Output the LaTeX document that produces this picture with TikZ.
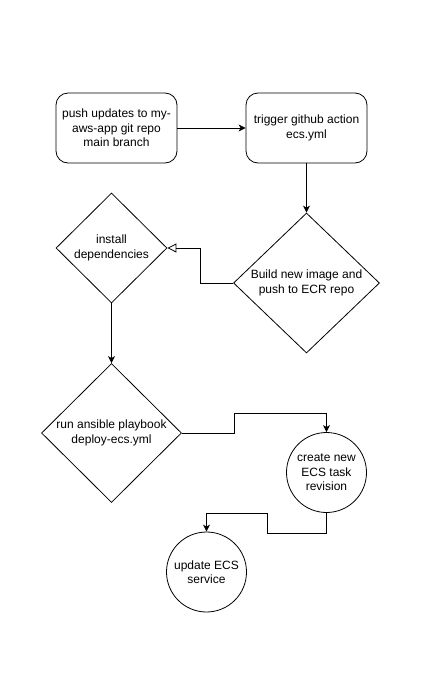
\documentclass[tikz,border=0pt]{standalone}
\usepackage{fontspec}
\setmainfont{Liberation Sans}
\usepackage{tikz}
\usetikzlibrary{shapes.geometric}
\usetikzlibrary{arrows.meta}
\tikzset{
  flowbox/.style={draw,rounded corners=12pt,minimum width=121pt,minimum height=70pt,align=center,inner sep=0pt},
  flowdiamond/.style={draw,diamond,align=center,inner sep=0pt},
  flowcircle/.style={draw,circle,align=center,inner sep=0pt},
  flowarrow/.style={-{Stealth[length=7pt,width=7pt,inset=2pt]}},
  openarrow/.style={-{Triangle[open,length=9pt,width=9pt]}}
}

\begin{document}
\begin{tikzpicture}[x=1pt,y=-1pt,line width=0.8pt,font=\fontsize{12}{14.4}\selectfont]
\useasboundingbox (0,0) rectangle (434,699);
\node[flowbox] (push) at (116.5,128) {push updates to my-\\aws-app git repo\\main branch};
\node[flowbox] (trigger) at (306.5,128) {trigger github action\\ecs.yml};
\node[flowdiamond,minimum width=146pt,minimum height=140pt] (build) at (306.5,283) {Build new image and\\push to ECR repo};
\node[flowdiamond,minimum width=111pt,minimum height=110pt] (install) at (111.5,248) {install\\dependencies};
\node[flowdiamond,minimum width=140pt,minimum height=139pt] (run) at (111.5,433) {run ansible playbook\\deploy-ecs.yml};
\node[flowcircle,minimum size=80pt] (create) at (326.5,472.5) {create new\\ECS task\\revision};
\node[flowcircle,minimum size=80pt] (update) at (206.5,572) {update ECS\\service};
\draw[flowarrow] (push.east) -- (trigger.west);
\draw[flowarrow] (trigger.south) -- (build.north);
\draw[openarrow] (build.west) -- (200,283) |- (install.east);
\draw[flowarrow] (install.south) -- (run.north);
\draw[flowarrow] (run.east) -| (234,413) -| (create.north);
\draw[flowarrow] (create.south) -- (326.5,533) -| (267,513) -| (update.north);
\end{tikzpicture}
\end{document}
